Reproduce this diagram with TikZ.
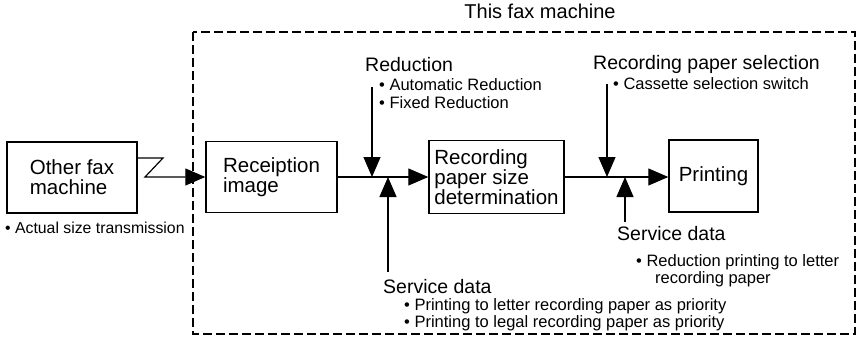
\documentclass[tikz,border=0pt]{standalone}
\usepackage{fontspec}
\setmainfont{Liberation Sans}
\usetikzlibrary{arrows.meta}
\begin{document}
\begin{tikzpicture}[x=1pt,y=-1pt,
  box/.style={draw,line width=1.4pt,inner sep=2pt,align=left,font=\fontsize{20.5}{20}\selectfont},
  conn/.style={line width=1.2pt},
  arr/.style={conn,-{Triangle[length=20pt,width=17pt]}},
  lbl/.style={anchor=base west,inner sep=0pt,font=\fontsize{19.5}{20}\selectfont},
  blt/.style={anchor=base west,inner sep=0pt,font=\fontsize{16.5}{17}\selectfont},
  frame/.style={line width=1.5pt,dash pattern=on 9pt off 4pt}]
\useasboundingbox (0,0) rectangle (860,337);

% dashed frame
\draw[frame] (193,32) rectangle (855,334);
\node[anchor=base,inner sep=0pt,font=\fontsize{20}{20}\selectfont] (title) at (540,19) {This fax machine};

% boxes
\node[box,minimum width=130pt,minimum height=71pt] (other) at (72,177.5) {Other fax\\machine};
\node[box,minimum width=131pt,minimum height=71pt] (recv) at (271.5,177) {Receiption\\image};
\node[box,minimum width=135pt,minimum height=73pt] (rec) at (496.5,177) {Recording\\paper size\\determination};
\node[box,minimum width=89pt,minimum height=72pt] (print) at (713.5,176) {Printing};

% Z connector
\coordinate (z1) at (163,158);
\coordinate (z2) at (145,177);
\draw[arr] (other.east |- z1) -- (z1) -- (z2) -- (z2 -| recv.west);

% main flow
\draw[arr] (recv.east) -- (recv.east -| rec.west);
\draw[arr] (rec.east) -- (rec.east -| print.west);

% junction points
\coordinate (j1) at (372,177);
\coordinate (j2) at (388,177);
\coordinate (j3) at (607,177);
\coordinate (j4) at (625,177);
\coordinate (t1) at (372,87);
\coordinate (b2) at (388,272);
\coordinate (t3) at (607,84);
\coordinate (b4) at (625,222);
\draw[arr] (t1) -- (j1);
\draw[arr] (b2) -- (j2);
\draw[arr] (t3) -- (j3);
\draw[arr] (b4) -- (j4);

% labels
\node[blt,font=\fontsize{15.8}{17}\selectfont] (act) at (5,233) {• Actual size transmission};

\node[lbl] (red) at (365,71) {Reduction};
\node[blt] (red1) at (379,91) {• Automatic Reduction};
\node[blt] (red2) at (379,108) {• Fixed Reduction};

\node[lbl] (sel) at (593,70) {Recording paper selection};
\node[blt] (sel1) at (613,90) {• Cassette selection switch};

\node[lbl] (sv2) at (617,240) {Service data};
\node[blt] (sv21) at (636,266) {• Reduction printing to letter};
\node[blt] (sv22) at (655,283) {recording paper};

\node[lbl] (sv1) at (383,293) {Service data};
\node[blt] (sv11) at (404,310) {• Printing to letter recording paper as priority};
\node[blt] (sv12) at (404,327) {• Printing to legal recording paper as priority};
\end{tikzpicture}
\end{document}
